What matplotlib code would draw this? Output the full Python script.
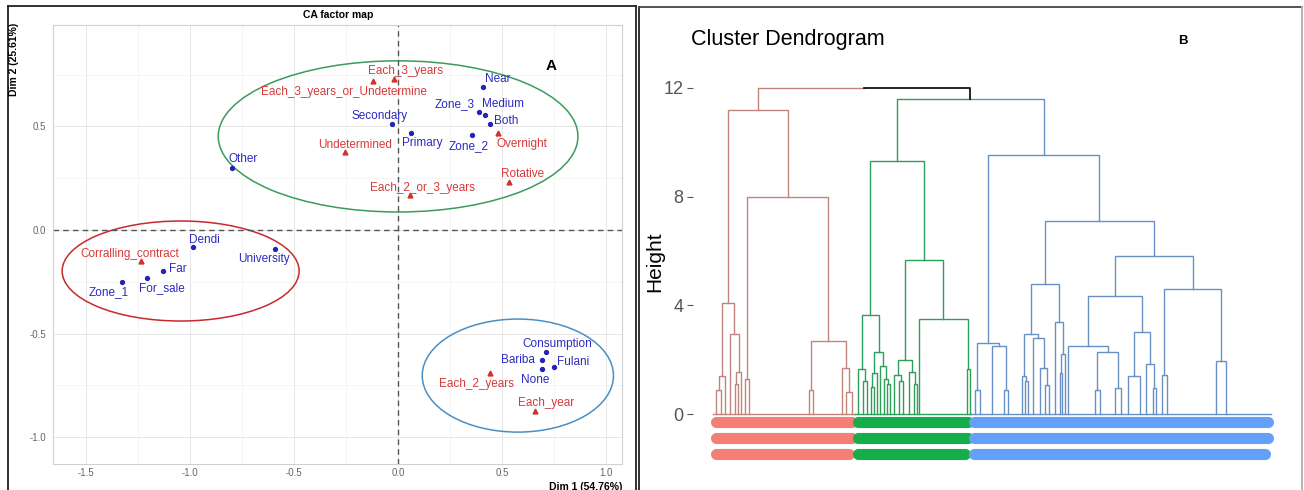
import matplotlib.pyplot as plt
from matplotlib.patches import Ellipse
from matplotlib.lines import Line2D

plt.rcParams['font.family'] = ['Liberation Sans', 'DejaVu Sans']

W, H = 1304, 490

# ---------------- CA factor map data ----------------
blue_names = ['Near', 'Zone_3', 'Medium', 'Both', 'Zone_2', 'Secondary', 'Primary', 'Other',
              'Dendi', 'University', 'Far', 'For_sale', 'Zone_1',
              'Consumption', 'Bariba', 'Fulani', 'None']
blue_x = [0.41, 0.39, 0.42, 0.44, 0.356, -0.03, 0.063, -0.80,
          -0.985, -0.59, -1.13, -1.21, -1.33,
          0.71, 0.69, 0.75, 0.69]
blue_y = [0.69, 0.57, 0.555, 0.51, 0.46, 0.51, 0.47, 0.30,
          -0.08, -0.09, -0.20, -0.23, -0.25,
          -0.59, -0.63, -0.66, -0.67]

red_names = ['Each_3_years', 'Each_3_years_or_Undetermine', 'Undetermined', 'Overnight',
             'Rotative', 'Each_2_or_3_years', 'Corralling_contract', 'Each_2_years', 'Each_year']
red_x = [-0.02, -0.12, -0.255, 0.48, 0.535, 0.058, -1.235, 0.44, 0.66]
red_y = [0.73, 0.72, 0.375, 0.47, 0.23, 0.17, -0.15, -0.69, -0.875]

# cluster ellipses: centre x, centre y, width, height
ell_cx = [0.0, -1.046, 0.576]
ell_cy = [0.452, -0.198, -0.703]
ell_w = [1.73, 1.14, 0.92]
ell_h = [0.73, 0.483, 0.546]
ell_colors = ['#3a9b5c', '#c8282e', '#4b8fc2']

# label offsets in pixels (dx, dy up)
blue_off = [(14, 8), (-25, 8), (18, 11), (17, 3), (-3, -11), (-12, 8), (11, -10), (11, 9),
            (11, 7), (-12, -10), (15, 2), (15, -10), (-13, -10),
            (12, 8), (-24, 0), (19, 5), (-6, -11)]
red_off = [(12, 8), (-29, -11), (10, 7), (24, -11), (13, 8), (12, 7), (-12, 7), (-13, -11), (11, 8)]

# ---------------- dendrogram data ----------------
def lf(n, f=0.5):
    return [n, f]

brown_tree = (11.2,
              (4.1,
               (1.4, (0.9, lf(6), lf(4)), lf(4)),
               (2.95, lf(6), (1.55, (1.1, lf(3), lf(3)), lf(4)))),
              (8.0,
               (1.3, lf(4), lf(4)),
               (2.7,
                (0.9, lf(60, 0.97), lf(3)),
                (1.7, lf(29, 0.98), (0.8, lf(6), lf(6))))))

green_tree = (9.3,
              (3.65,
               (1.65, lf(6), (1.2, lf(4), lf(4))),
               (2.3,
                (1.5, (1.0, lf(3), lf(3)), lf(3)),
                (1.75, lf(4), (1.3, lf(3), (1.1, lf(3), lf(3)))))),
              (5.65,
               (2.0,
                (1.45, lf(6), (1.2, lf(4), lf(4))),
                (1.55, lf(7), (1.1, lf(3), lf(3)))),
               (3.5, lf(47, 0.02), (1.65, lf(3), lf(3)))))

blue_tree = (9.55,
             (2.6,
              (0.9, lf(7), lf(4)),
              (2.5, lf(20), (0.9, lf(4), lf(4)))),
             (7.1,
              (4.8,
               (2.95,
                (1.4, lf(13, 0.9), (1.2, lf(3), lf(3))),
                (2.8, lf(8), (1.7, lf(6), (1.05, lf(4), lf(4))))),
               (3.4, lf(8), (2.2, (1.5, lf(2), lf(2)), lf(3)))),
              (5.8,
               (4.35,
                (2.5, lf(22, 0.1), (2.3, (0.9, lf(10, 0.7), lf(3)),
                                    (0.95, lf(16, 0.85), lf(8)))),
                (3.0, (1.4, lf(6), lf(10, 0.9)), (1.85, lf(10), (0.95, lf(3), lf(3))))),
               (4.6,
                (1.45, lf(8, 0.6), lf(6, 0.3)),
                (1.95, lf(46, 0.98), lf(54, 0.17))))))

green_blue_height = 11.6
root_height = 12.0

branch_colors = ['#bf857a', '#2e9e5b', '#6990c4']
label_colors = ['#f47f74', '#14ad48', '#64a0f8']
label_rows = [-0.28, -0.865, -1.47]

fig = plt.figure(figsize=(W / 100, H / 100), dpi=100)


def fx(px):
    return px / W


def fy(py):
    return (H - py) / H


# ---------------- panel A ----------------
ax = fig.add_axes([fx(53), fy(464), fx(622 - 53), (464 - 25) / H])
ax.set_xlim(-1.66, 1.077)
ax.set_ylim(-1.13, 0.99)
ax.set_xticks([-1.5, -1.0, -0.5, 0.0, 0.5, 1.0])
ax.set_yticks([-1.0, -0.5, 0.0, 0.5])
ax.set_xticks([-1.25, -0.75, -0.25, 0.25, 0.75], minor=True)
ax.set_yticks([-0.75, -0.25, 0.25, 0.75], minor=True)
ax.set_xticklabels(['-1.5', '-1.0', '-0.5', '0.0', '0.5', '1.0'])
ax.set_yticklabels(['-1.0', '-0.5', '0.0', '0.5'])
ax.tick_params(which='both', length=0, labelsize=7, labelcolor='#666666')
ax.tick_params(axis='y', pad=5)
ax.tick_params(axis='x', pad=3)
ax.grid(which='major', color='#e6e6e6', lw=0.7)
ax.grid(which='minor', color='#f2f2f2', lw=0.5)
ax.set_axisbelow(True)
for s in ax.spines.values():
    s.set_color('#d0d0d0')
    s.set_linewidth(0.8)

ax.axhline(0, color='#555555', lw=1.0, ls=(0, (4, 3)))
ax.axvline(0, color='#555555', lw=1.0, ls=(0, (4, 3)))

for cx, cy, w, h, c in zip(ell_cx, ell_cy, ell_w, ell_h, ell_colors):
    ax.add_patch(Ellipse((cx, cy), w, h, fill=False, ec=c, lw=1.1))

ax.plot(blue_x, blue_y, 'o', color='#2323b8', ms=2.8)
ax.plot(red_x, red_y, '^', color='#d43030', ms=3.5)
for name, x, y, (dx, dy) in zip(blue_names, blue_x, blue_y, blue_off):
    ax.annotate(name, (x, y), xytext=(dx * 0.72, dy * 0.72), textcoords='offset points',
                ha='center', va='center', color='#2b2bbd', fontsize=8.5)
for name, x, y, (dx, dy) in zip(red_names, red_x, red_y, red_off):
    ax.annotate(name, (x, y), xytext=(dx * 0.72, dy * 0.72), textcoords='offset points',
                ha='center', va='center', color='#d63a3a', fontsize=8.5)

fig.text(fx(338), fy(15), 'CA factor map', ha='center', va='center', fontsize=7.5, fontweight='bold')
fig.text(fx(14), fy(23), 'Dim 2 (25.61%)', ha='center', va='top', rotation=90,
         fontsize=7.5, fontweight='bold')
fig.text(fx(622), fy(487), 'Dim 1 (54.76%)', ha='right', va='center', fontsize=7.5, fontweight='bold')
fig.text(fx(551), fy(66), 'A', ha='center', va='center', fontsize=11, fontweight='bold')

# ---------------- panel B ----------------
bx = fig.add_axes([fx(693), fy(470), fx(1290 - 693), (470 - 30) / H])
bx.set_xlim(-20, 577)
bx.set_ylim(-2.061, 14.133)
for s in bx.spines.values():
    s.set_visible(False)
bx.set_xticks([])
bx.set_yticks([0, 4, 8, 12])
bx.tick_params(axis='y', length=4, width=0.8, color='#555555', labelsize=13, labelcolor='#555555', pad=3)


def draw(node, start, color):
    if isinstance(node, list):
        n, f = node
        return start + n * f, 0.0, start + n
    h, left, right = node
    xl, hl, end = draw(left, start, color)
    xr, hr, end = draw(right, end, color)
    bx.plot([xl, xl, xr, xr], [hl, h, h, hr], color=color, lw=1.0, solid_joinstyle='miter')
    return (xl + xr) / 2, h, end


tops = []
pos = 0
for tree, bc, lc in zip([brown_tree, green_tree, blue_tree], branch_colors, label_colors):
    x, h, end = draw(tree, pos, bc)
    bx.plot([pos, end], [0, 0], color=bc, lw=1.0)
    for k, yr in enumerate(label_rows):
        bx.plot([pos + 3, end - (6 if k == 2 else 3)], [yr, yr], color=lc, lw=8,
                solid_capstyle='round')
    tops.append((x, h))
    pos = end

(xb, hb), (xg, hg), (xl, hl) = tops
xgb = (xg + xl) / 2
bx.plot([xg, xg, xgb], [hg, green_blue_height, green_blue_height], color=branch_colors[1], lw=1.0)
bx.plot([xgb, xl, xl], [green_blue_height, green_blue_height, hl], color=branch_colors[2], lw=1.0)
xroot = (xb + xgb) / 2
bx.plot([xb, xb, xroot], [hb, root_height, root_height], color=branch_colors[0], lw=1.0)
bx.plot([xroot, xgb, xgb], [root_height, root_height, green_blue_height], color='black', lw=1.2)

fig.text(fx(691), fy(40), 'Cluster Dendrogram', ha='left', va='center', fontsize=15.5)
fig.text(fx(655), fy(262), 'Height', ha='center', va='center', rotation=90, fontsize=15)
fig.text(fx(1183), fy(41), 'B', ha='center', va='center', fontsize=9.5, fontweight='bold')

# ---------------- outer frames ----------------
frame = [((8, 6), (8, 495), '#222222'), ((8, 6), (636, 6), '#222222'), ((636, 6), (636, 495), '#222222'),
         ((639, 7), (639, 495), '#222222'), ((639, 7), (1302, 7), '#444444'),
         ((1302, 7), (1302, 495), '#b0b0b0')]
for (x0, y0), (x1, y1), c in frame:
    fig.add_artist(Line2D([fx(x0), fx(x1)], [fy(y0), fy(y1)], color=c, lw=1.3, transform=fig.transFigure))

fig.savefig('out.png', dpi=100)
